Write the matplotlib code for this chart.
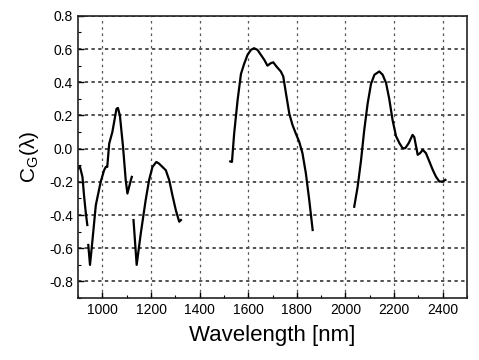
import matplotlib
matplotlib.use("Agg")
import matplotlib.pyplot as plt
from matplotlib.ticker import MultipleLocator

plt.rcParams['font.family'] = ['Liberation Sans', 'DejaVu Sans']

# Curve segments (wavelength nm, C_G)
seg1_x = [900, 907, 918, 925, 932, 938]
seg1_y = [-0.12, -0.105, -0.17, -0.29, -0.39, -0.46]

seg2_x = [942, 949, 956, 973, 993, 1007, 1014, 1020, 1028, 1041, 1058, 1064, 1072, 1085, 1096, 1103, 1110, 1117, 1121]
seg2_y = [-0.58, -0.70, -0.60, -0.34, -0.20, -0.13, -0.11, -0.11, 0.03, 0.10, 0.24, 0.245, 0.20, 0.01, -0.19, -0.27, -0.23, -0.19, -0.17]

seg3_x = [1128, 1141, 1158, 1178, 1192, 1206, 1222, 1233, 1247, 1261, 1275, 1288, 1302, 1316, 1323]
seg3_y = [-0.43, -0.70, -0.51, -0.31, -0.19, -0.11, -0.08, -0.09, -0.11, -0.13, -0.19, -0.28, -0.37, -0.44, -0.43]

seg4_x = [1526, 1533, 1542, 1556, 1570, 1583, 1597, 1611, 1624, 1638, 1652, 1666, 1679, 1693, 1703,
          1716, 1734, 1744, 1755, 1769, 1782, 1796, 1810, 1823, 1837, 1851, 1865]
seg4_y = [-0.077, -0.08, 0.09, 0.29, 0.45, 0.51, 0.565, 0.595, 0.605, 0.595, 0.565, 0.535, 0.50, 0.515, 0.52,
          0.495, 0.465, 0.435, 0.335, 0.21, 0.143, 0.09, 0.04, -0.027, -0.148, -0.31, -0.49]

seg5_x = [2036, 2050, 2064, 2077, 2091, 2105, 2119, 2139, 2153, 2167, 2180, 2194, 2208, 2222, 2235, 2246,
          2260, 2276, 2283, 2297, 2307, 2318, 2331, 2345, 2359, 2372, 2386, 2400, 2411]
seg5_y = [-0.35, -0.23, -0.07, 0.11, 0.27, 0.39, 0.445, 0.465, 0.445, 0.395, 0.30, 0.17, 0.075, 0.033, 0.003, 0.003,
          0.033, 0.083, 0.07, -0.037, -0.027, -0.007, -0.027, -0.077, -0.128, -0.168, -0.198, -0.198, -0.188]

segments = [(seg1_x, seg1_y), (seg2_x, seg2_y), (seg3_x, seg3_y), (seg4_x, seg4_y), (seg5_x, seg5_y)]

xticks = [1000, 1200, 1400, 1600, 1800, 2000, 2200, 2400]
yticks = [-0.8, -0.6, -0.4, -0.2, 0.0, 0.2, 0.4, 0.6, 0.8]

fig = plt.figure(figsize=(4.79, 3.6), dpi=100)
ax = fig.add_axes([0.163, 0.172, 0.812, 0.784])

for xs, ys in segments:
    ax.plot(xs, ys, color='black', linewidth=1.6, solid_joinstyle='round')

ax.set_xlim(900, 2500)
ax.set_ylim(-0.9, 0.8)
ax.set_xticks(xticks)
ax.set_yticks(yticks)
ax.set_yticklabels([f"{v:.1f}" for v in yticks])
ax.xaxis.set_minor_locator(MultipleLocator(100))
ax.yaxis.set_minor_locator(MultipleLocator(0.1))

for v in yticks:
    ax.axhline(v, color='#222222', linestyle=(0, (2.2, 2.2)), linewidth=1.1, zorder=0)
for v in xticks:
    ax.axvline(v, color='#555555', linestyle=(0, (2, 3)), linewidth=0.9, zorder=0)

ax.tick_params(which='major', direction='in', length=4, width=1, labelsize=10, colors='black')
ax.tick_params(which='minor', direction='in', length=2, width=0.8)
for s in ax.spines.values():
    s.set_linewidth(1.2)
    s.set_color('#222222')

ax.set_xlabel('Wavelength [nm]', fontsize=16, labelpad=6)
ax.set_ylabel('C$_\\mathregular{G}$(λ)', fontsize=15, labelpad=6)

fig.savefig('out.png', dpi=100)
